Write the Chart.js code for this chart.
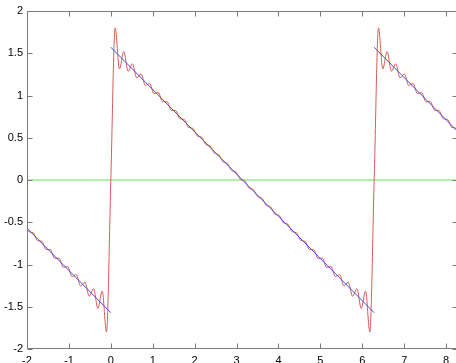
<!DOCTYPE html>
<html>
<head>
<meta charset="utf-8">
<script src="https://cdn.jsdelivr.net/npm/chart.js@4/dist/chart.umd.min.js"></script>
<style>
html,body{margin:0;padding:0;background:#fff;overflow:hidden;}
#wrap{width:458px;height:363px;}
canvas{display:block;}
</style>
</head>
<body>
<div id="wrap"><canvas id="c" width="458" height="363"></canvas></div>
<script>
// Tick values (labels shown as plain numbers)
const xTicks = [-2, -1, 0, 1, 2, 3, 4, 5, 6, 7, 8];
const yTicks = [-2, -1.5, -1, -0.5, 0, 0.5, 1, 1.5, 2];

const redX = [
  -2, -1.957, -1.854, -1.751, -1.648, -1.545, -1.442, -1.339, -1.236, -1.133, -1.030,
  -0.927, -0.824, -0.721, -0.618, -0.515, -0.412, -0.309, -0.206, -0.103, 0,
  0.103, 0.206, 0.309, 0.412, 0.515, 0.618, 0.721, 0.824, 0.927, 1.030,
  1.133, 1.236, 1.339, 1.442, 1.545, 1.648, 1.751, 1.854, 1.957, 2.060,
  2.163, 2.266, 2.369, 2.472, 2.575, 2.678, 2.781, 2.884, 2.987, 3.090,
  3.193, 3.296, 3.399, 3.502, 3.605, 3.708, 3.811, 3.914, 4.017, 4.120,
  4.223, 4.326, 4.429, 4.532, 4.635, 4.738, 4.841, 4.944, 5.047, 5.150,
  5.253, 5.356, 5.459, 5.562, 5.665, 5.768, 5.871, 5.974, 6.077, 6.180,
  6.283, 6.386, 6.489, 6.592, 6.695, 6.798, 6.901, 7.004, 7.107, 7.210,
  7.313, 7.416, 7.519, 7.622, 7.725, 7.828, 7.931, 8.034, 8.137, 8.240, 8.283
];
const redY = [
  -0.576, -0.612, -0.623, -0.717, -0.725, -0.822, -0.825, -0.928, -0.925, -1.035, -1.023,
  -1.143, -1.119, -1.255, -1.209, -1.376, -1.286, -1.520, -1.315, -1.800, 0,
  1.800, 1.315, 1.520, 1.286, 1.376, 1.209, 1.255, 1.119, 1.143, 1.023,
  1.035, 0.925, 0.928, 0.825, 0.822, 0.725, 0.717, 0.623, 0.612, 0.522,
  0.508, 0.420, 0.404, 0.317, 0.300, 0.215, 0.197, 0.112, 0.094, 0.009,
  -0.009, -0.094, -0.112, -0.197, -0.215, -0.300, -0.317, -0.404, -0.420, -0.508,
  -0.522, -0.612, -0.623, -0.717, -0.725, -0.822, -0.825, -0.928, -0.925, -1.035,
  -1.023, -1.143, -1.119, -1.255, -1.209, -1.376, -1.286, -1.520, -1.315, -1.800,
  0, 1.800, 1.315, 1.520, 1.286, 1.376, 1.209, 1.255, 1.119, 1.143,
  1.023, 1.035, 0.925, 0.928, 0.825, 0.822, 0.725, 0.717, 0.623, 0.612, 0.576
];

// Blue target sawtooth (three straight pieces, null = gap)
const blueX = [-2, 0, 0, 0, 6.2832, 6.2832, 6.2832, 8.2832];
const blueY = [-0.5708, -1.5708, null, 1.5708, -1.5708, null, 1.5708, 0.5708];

// Green zero line
const greenX = [-2, 8.2832];
const greenY = [0, 0];

const xMin = -2, xMax = 8.2832, yMin = -2, yMax = 2;

const zip = (xs, ys) => xs.map((v, i) => ({x: v, y: ys[i]}));

Chart.defaults.font.family = "'Liberation Sans', Arial, sans-serif";
Chart.defaults.font.size = 11;
Chart.defaults.color = '#000';

const boxPlugin = {
  id: 'box',
  afterDatasetsDraw(chart) {
    const {ctx, chartArea: a, scales: {x, y}} = chart;
    const L = Math.round(a.left) + 0.5, R = Math.round(a.right) - 0.5;
    const T = Math.round(a.top) + 0.5, B = Math.round(a.bottom) - 0.5;
    const tl = 5;
    ctx.save();
    ctx.strokeStyle = '#7a7a7a';
    ctx.lineWidth = 1;
    ctx.beginPath();
    ctx.rect(L, T, R - L, B - T);
    xTicks.forEach(v => {
      const p = Math.round(x.getPixelForValue(v)) + 0.5;
      ctx.moveTo(p, B); ctx.lineTo(p, B - tl);
      ctx.moveTo(p, T); ctx.lineTo(p, T + tl);
    });
    yTicks.forEach(v => {
      const p = Math.round(y.getPixelForValue(v)) + 0.5;
      ctx.moveTo(L, p); ctx.lineTo(L + tl, p);
      ctx.moveTo(R, p); ctx.lineTo(R - tl, p);
    });
    ctx.stroke();
    ctx.restore();
  }
};

new Chart(document.getElementById('c'), {
  type: 'line',
  data: {
    datasets: [
      {data: zip(blueX, blueY), borderColor: '#4a4ad8', borderWidth: 1, pointRadius: 0, spanGaps: false, order: 0},
      {data: zip(redX, redY), borderColor: '#da5a5a', borderWidth: 1, pointRadius: 0, cubicInterpolationMode: 'monotone', order: 1},
      {data: zip(greenX, greenY), borderColor: '#60e060', borderWidth: 1, pointRadius: 0, order: 2}
    ]
  },
  options: {
    responsive: false,
    animation: false,
    devicePixelRatio: 1,
    layout: {padding: {top: 11, right: 0, bottom: 0, left: 0}},
    plugins: {legend: {display: false}, tooltip: {enabled: false}},
    scales: {
      x: {
        type: 'linear', min: xMin, max: xMax,
        grid: {display: false, drawTicks: false},
        border: {display: false},
        ticks: {padding: 5, maxRotation: 0, autoSkip: false, includeBounds: false,
                callback: v => String(v)},
        afterBuildTicks: s => { s.ticks = xTicks.map(v => ({value: v})); },
        afterFit: s => { s.height = 14; }
      },
      y: {
        type: 'linear', min: yMin, max: yMax,
        grid: {display: false, drawTicks: false},
        border: {display: false},
        ticks: {padding: 4, autoSkip: false, includeBounds: false,
                callback: v => String(v)},
        afterBuildTicks: s => { s.ticks = yTicks.map(v => ({value: v})); },
        afterFit: s => { s.width = 27; }
      }
    }
  },
  plugins: [boxPlugin]
});
</script>
</body>
</html>
